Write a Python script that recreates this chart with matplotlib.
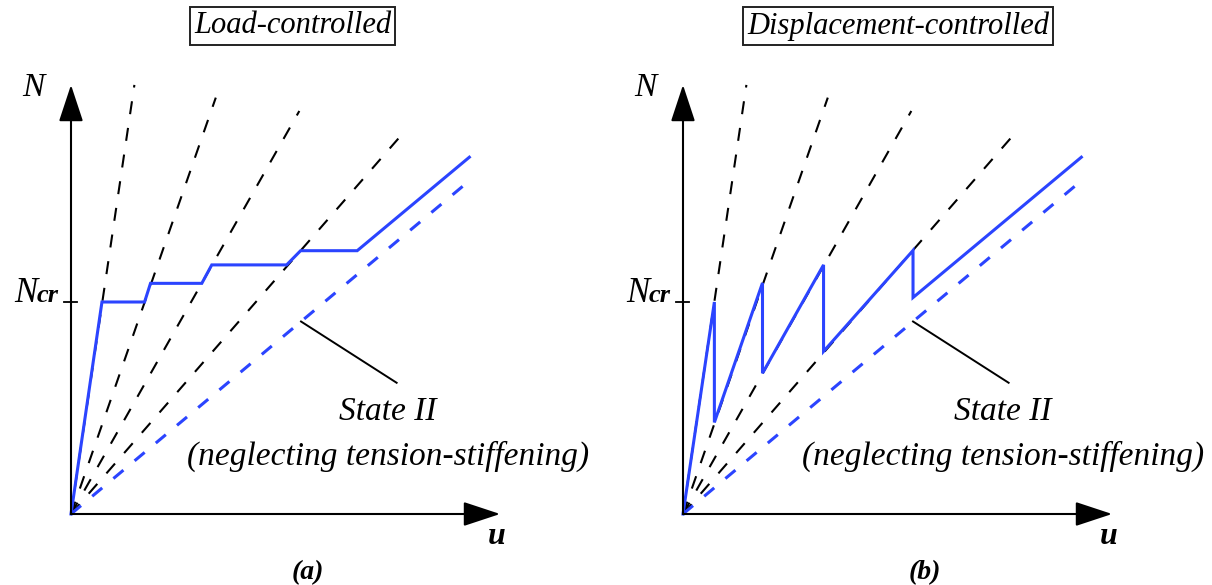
import matplotlib.pyplot as plt

plt.rcParams['lines.scale_dashes'] = False

# figure size in pixels, and pixels per unit of u and N
W, H = 1212, 585
S = 212.0

# secant stiffness rays after each crack (end points, origin at 0,0)
ray_u = [0.299, 0.683, 1.077, 1.586]
ray_N = [2.024, 1.964, 1.901, 1.819]

# state II (no tension stiffening)
state2_u = [0.0, 1.879]
state2_N = [0.0, 1.572]

# load-controlled response
load_u = [0.0, 0.146, 0.347, 0.375, 0.617, 0.664, 1.017, 1.083, 1.350, 1.879]
load_N = [0.0, 1.000, 1.000, 1.088, 1.088, 1.175, 1.175, 1.242, 1.242, 1.683]

# displacement-controlled response
disp_u = [0.0, 0.148, 0.148, 0.375, 0.375, 0.663, 0.663, 1.085, 1.085, 1.879]
disp_N = [0.0, 1.000, 0.432, 1.090, 0.664, 1.175, 0.767, 1.243, 1.021, 1.683]

Ncr = 1.0
axis_len = 2.024

# leader from the state II line to its label
leader_u = [1.085, 1.536]
leader_N = [0.908, 0.619]

blue = '#2b44ff'
serif = dict(family='Liberation Serif', style='italic')

fig = plt.figure(figsize=(W / 100, H / 100), dpi=100)


def panel(ox, oy, title, title_u, path_u, path_N, tag, text_u, tag_u):
    x0, x1, y0, y1 = -0.36, 2.45, -0.36, 2.45
    ax = fig.add_axes([(ox + x0 * S) / W, (H - oy + y0 * S) / H,
                       (x1 - x0) * S / W, (y1 - y0) * S / H])
    ax.set_xlim(x0, x1)
    ax.set_ylim(y0, y1)
    ax.axis('off')

    for u, n in zip(ray_u, ray_N):
        ax.plot([0, u], [0, n], color='k', lw=1.5, dashes=(9.4, 10))
    ax.plot(state2_u, state2_N, color=blue, lw=2.2, dashes=(9.4, 10.5))
    ax.plot(path_u, path_N, color=blue, lw=2.2, solid_joinstyle='miter', zorder=3)

    # axes with filled arrow heads
    arrow = dict(arrowstyle='-|>,head_length=2.3,head_width=0.76', mutation_scale=10,
                 lw=1.5, color='k', shrinkA=0, shrinkB=0)
    ax.annotate('', xy=(axis_len, 0), xytext=(0, 0), arrowprops=arrow)
    ax.annotate('', xy=(0, axis_len), xytext=(0, 0), arrowprops=arrow)
    ax.plot([-0.031, 0.028], [Ncr, Ncr], color='k', lw=1.3)

    ax.text(-0.179, 2.01, 'N', ha='center', va='center', fontsize=24, **serif)
    ax.text(-0.160, Ncr, 'N', ha='right', va='baseline', fontsize=25, **serif)
    ax.text(-0.057, Ncr, 'cr', ha='right', va='baseline', fontsize=19,
            weight='bold', **serif)
    ax.text(2.01, -0.108, 'u', ha='center', va='center', fontsize=23,
            weight='bold', **serif)
    ax.text(tag_u, -0.275, tag, ha='center', va='center', fontsize=20,
            weight='bold', **serif)

    ax.text(title_u, 2.302, title, ha='center', va='center', fontsize=22, **serif,
            bbox=dict(boxstyle='square,pad=0.14', fc='white', ec='#222222', lw=1.4))

    ax.plot(leader_u, leader_N, color='k', lw=1.4)
    ax.text(text_u, 0.481, 'State II', ha='center', va='center', fontsize=24, **serif)
    ax.text(text_u, 0.272, '(neglecting tension-stiffening)', ha='center',
            va='center', fontsize=24, **serif)


panel(71, 514, 'Load-controlled', 1.045, load_u, load_N, '(a)', 1.495, 1.118)
panel(683, 514, 'Displacement-controlled', 1.014, disp_u, disp_N, '(b)', 1.51, 1.14)

fig.savefig('out.png', dpi=100)
